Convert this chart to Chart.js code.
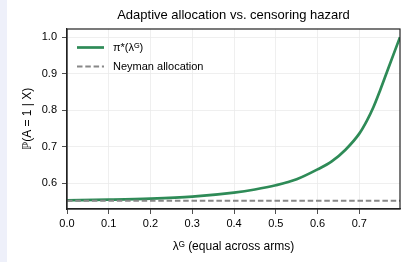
<!DOCTYPE html>
<html>
<head>
<meta charset="utf-8">
<script src="https://cdn.jsdelivr.net/npm/chart.js@4.4.0/dist/chart.umd.min.js"></script>
<style>
  html, body { margin: 0; padding: 0; background: #eef0fa; }
  #wrap { position: absolute; left: 7px; top: 0; width: 394px; height: 262px; background: #fff; }
</style>
</head>
<body>
<div id="wrap"><canvas id="chart" width="394" height="262"></canvas></div>
<script>
// values
const lambdaVals = [0, 0.1, 0.2, 0.3, 0.4, 0.45, 0.5, 0.55, 0.6, 0.634, 0.667, 0.7, 0.718, 0.734, 0.75, 0.766, 0.782, 0.7975];
const piVals = [0.5535, 0.5552, 0.558, 0.5635, 0.5745, 0.583, 0.5945, 0.611, 0.638, 0.660, 0.692, 0.736, 0.771, 0.809, 0.855, 0.904, 0.953, 1.0];
const neymanLambda = [0, 0.7975];
const neymanVals = [0.552, 0.552];
const xTicks = [0, 0.1, 0.2, 0.3, 0.4, 0.5, 0.6, 0.7];
const yTicks = [0.6, 0.7, 0.8, 0.9, 1.0];

const FONT = '"Liberation Sans", Arial, "DejaVu Sans", sans-serif';
Chart.defaults.font.family = FONT;
Chart.defaults.color = '#000';

// frame, title and legend drawn inside the plot
const insideLegend = {
    id: 'insideLegend',
    afterDraw(chart) {
        const { ctx, chartArea } = chart;
        ctx.save();
        ctx.strokeStyle = '#222';
        ctx.lineWidth = 1.2;
        ctx.strokeRect(chartArea.left, chartArea.top, chartArea.width, chartArea.height);

        ctx.fillStyle = '#000';
        ctx.font = '13px ' + FONT;
        ctx.textAlign = 'center';
        ctx.textBaseline = 'middle';
        ctx.fillText('Adaptive allocation vs. censoring hazard', (chartArea.left + chartArea.right) / 2, 15);

        ctx.textAlign = 'left';
        ctx.font = '11px ' + FONT;
        chart.data.datasets.forEach((ds, i) => {
            const y = chartArea.top + 18.5 + i * 19;
            const x0 = chartArea.left + 10;
            ctx.strokeStyle = ds.borderColor;
            ctx.lineWidth = ds.borderWidth;
            ctx.setLineDash(ds.borderDash || []);
            ctx.beginPath();
            ctx.moveTo(x0, y);
            ctx.lineTo(x0 + 27, y);
            ctx.stroke();
            ctx.setLineDash([]);
            ctx.fillText(ds.label, x0 + 36, y);
        });
        ctx.restore();
    }
};

const ctx = document.getElementById('chart').getContext('2d');
new Chart(ctx, {
    type: 'line',
    data: {
        datasets: [{
            label: 'π*(λᴳ)',
            data: lambdaVals.map((x, i) => ({ x: x, y: piVals[i] })),
            borderColor: '#2e8b57',
            borderWidth: 2.7,
            pointRadius: 0,
            cubicInterpolationMode: 'monotone',
            order: 1
        }, {
            label: 'Neyman allocation',
            data: neymanLambda.map((x, i) => ({ x: x, y: neymanVals[i] })),
            borderColor: '#888888',
            borderWidth: 1.9,
            borderDash: [5.5, 2.8],
            pointRadius: 0,
            order: 0
        }]
    },
    options: {
        responsive: false,
        animation: false,
        devicePixelRatio: 1,
        layout: { padding: { left: 0, right: 1, top: 29, bottom: 0 } },
        plugins: { legend: { display: false }, tooltip: { enabled: false } },
        scales: {
            x: {
                type: 'linear',
                min: 0,
                max: 0.7975,
                afterBuildTicks: s => { s.ticks = xTicks.map(v => ({ value: v })); },
                afterFit: s => { s.height = 53; },
                ticks: { callback: v => v.toFixed(1), font: { size: 11 }, padding: 3, maxRotation: 0, autoSkip: false },
                grid: { color: '#ebebeb', lineWidth: 0.8, tickColor: '#222', tickLength: 5 },
                border: { color: '#222', width: 1.2 },
                title: { display: true, text: 'λᴳ (equal across arms)', font: { size: 12 }, padding: { top: 0, bottom: 8 } }
            },
            y: {
                min: 0.5296,
                max: 1.0224,
                afterBuildTicks: s => { s.ticks = yTicks.map(v => ({ value: v })); },
                afterFit: s => { s.width = 60; },
                ticks: { callback: v => v.toFixed(1), font: { size: 11 }, padding: 5 },
                grid: { color: '#ebebeb', lineWidth: 0.8, tickColor: '#222', tickLength: 5 },
                border: { color: '#222', width: 1.2 },
                title: { display: true, text: 'ℙ(A = 1 | X)', font: { size: 12 }, padding: { top: 13, bottom: 0 } }
            }
        }
    },
    plugins: [insideLegend]
});
</script>
</body>
</html>
